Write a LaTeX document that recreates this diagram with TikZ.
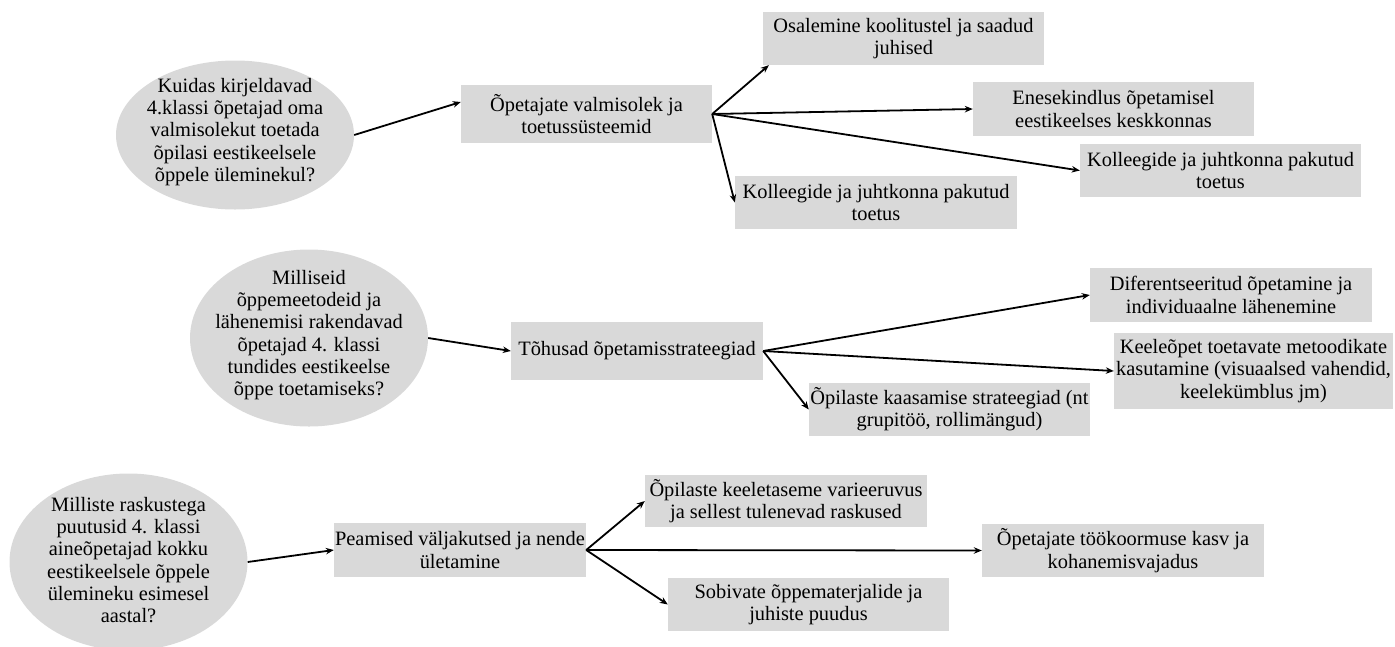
\documentclass[tikz,border=0pt]{standalone}
\usepackage{fontspec}
\setmainfont{Liberation Serif}
\usetikzlibrary{shapes.geometric,arrows.meta}
\definecolor{boxgray}{HTML}{D9D9D9}
\begin{document}
\begin{tikzpicture}[x=1pt,y=-1pt,
  every node/.style={font=\fontsize{20.4}{22.3}\selectfont},
  qell/.style={ellipse,fill=boxgray,inner sep=0pt},
  qtext/.style={align=center,inner sep=0pt},
  tbox/.style={rectangle,fill=boxgray,align=center,inner sep=0pt},
  conn/.style={line width=1.8pt,-{Stealth[length=8pt,width=6.5pt]}}]
\useasboundingbox (0,0) rectangle (1395,646);

% Row 1
\node[qell,minimum width=238,minimum height=149] (q1) at (235,135) {};
\node[qtext] at (235,132) {Kuidas kirjeldavad\\4.klassi õpetajad oma\\valmisolekut toetada\\õpilasi eestikeelsele\\õppele üleminekul?};
\node[tbox,minimum width=251,minimum height=58] (a1) at (586.5,114) {Õpetajate valmisolek ja\\toetussüsteemid};
\node[tbox,minimum width=281,minimum height=53] (a1o) at (903.5,38.5) {Osalemine koolitustel ja saadud\\juhised};
\node[tbox,minimum width=281,minimum height=54] (a1e) at (1113.5,109) {Enesekindlus õpetamisel\\eestikeelses keskkonnas};
\node[tbox,minimum width=281,minimum height=53] (a1k) at (1220.5,170.5) {Kolleegide ja juhtkonna pakutud\\toetus};
\node[tbox,minimum width=282,minimum height=53] (a1b) at (876,202.5) {Kolleegide ja juhtkonna pakutud\\toetus};
\coordinate (a1in) at ([yshift=12pt]a1.west);
\coordinate (a1oin) at ([xshift=6pt]a1o.south west);
\draw[conn] (q1.east) -- (a1in);
\draw[conn] (a1.east) -- (a1oin);
\draw[conn] (a1.east) -- (a1e.west);
\draw[conn] (a1.east) -- (a1k.west);
\draw[conn] (a1.east) -- (a1b.west);

% Row 2
\node[qell,minimum width=238,minimum height=177] (q2) at (309,338) {};
\node[qtext] at (309,335) {Milliseid\\õppemeetodeid ja\\lähenemisi rakendavad\\õpetajad 4. klassi\\tundides eestikeelse\\õppe toetamiseks?};
\node[tbox,minimum width=252,minimum height=58] (a2) at (637,351) {Tõhusad õpetamisstrateegiad};
\node[tbox,minimum width=282,minimum height=54] (a2d) at (1231,295) {Diferentseeritud õpetamine ja\\individuaalne lähenemine};
\node[tbox,minimum width=279,minimum height=76] (a2k) at (1253.5,371) {Keeleõpet toetavate metoodikate\\kasutamine (visuaalsed vahendid,\\keelekümblus jm)};
\node[tbox,minimum width=281,minimum height=53] (a2o) at (949.5,409.5) {Õpilaste kaasamise strateegiad (nt\\grupitöö, rollimängud)};
\draw[conn] (q2.east) -- (a2.west);
\draw[conn] (a2.east) -- (a2d.west);
\draw[conn] (a2.east) -- (a2k.west);
\draw[conn] (a2.east) -- (a2o.west);

% Row 3
\node[qell,minimum width=238,minimum height=177] (q3) at (128.5,562) {};
\node[qtext] at (128.5,560) {Milliste raskustega\\puutusid 4. klassi\\aineõpetajad kokku\\eestikeelsele õppele\\ülemineku esimesel\\aastal?};
\node[tbox,minimum width=252,minimum height=54] (a3) at (460,550) {Peamised väljakutsed ja nende\\ületamine};
\node[tbox,minimum width=282,minimum height=52] (a3v) at (786,501) {Õpilaste keeletaseme varieeruvus\\ja sellest tulenevad raskused};
\node[tbox,minimum width=282,minimum height=53] (a3t) at (1123,550.5) {Õpetajate töökoormuse kasv ja\\kohanemisvajadus};
\node[tbox,minimum width=281,minimum height=53] (a3s) at (808.5,604.5) {Sobivate õppematerjalide ja\\juhiste puudus};
\draw[conn] (q3.east) -- (a3.west);
\draw[conn] (a3.east) -- (a3v.west);
\draw[conn] (a3.east) -- (a3t.west);
\draw[conn] (a3.east) -- (a3s.west);
\end{tikzpicture}
\end{document}
